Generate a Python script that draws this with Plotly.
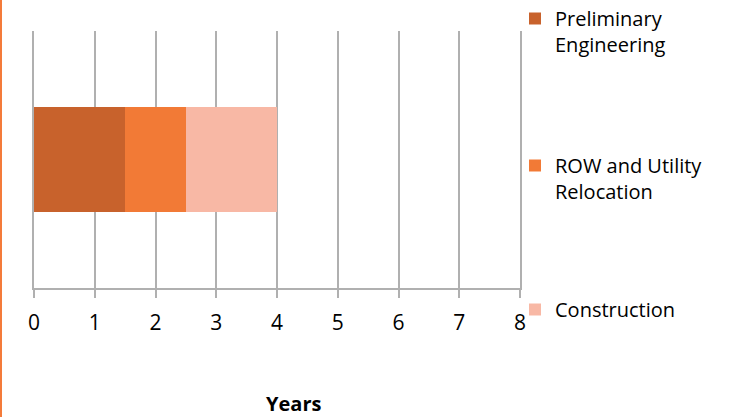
import plotly.graph_objects as go

# Project phases and their durations (years), stacked along one timeline
phases = ["Preliminary Engineering", "ROW and Utility Relocation", "Construction"]
legend_labels = ["Preliminary<br>Engineering", "ROW and Utility<br>Relocation", "Construction"]
durations = [1.5, 1.0, 1.5]
colors = ["#C8622C", "#F27A36", "#F8B8A5"]
category = ["Project"]
tick_values = [0, 1, 2, 3, 4, 5, 6, 7, 8]

FONT = "Open Sans"
GRID = "#B0B0B0"

fig = go.Figure()
legend_ids = ["legend", "legend2", "legend3"]
for label, dur, col, lg in zip(legend_labels, durations, colors, legend_ids):
    fig.add_trace(go.Bar(
        y=category, x=[dur], orientation="h", name=label,
        marker=dict(color=col, line=dict(width=0)),
        width=0.405, legend=lg,
    ))

L, R, T, B = 34, 212, 31, 129
W, H = 732, 417
pw = W - L - R
ph = H - T - B


def px_x(px):
    return (px - L) / pw


def py(px):
    return (H - B - px) / ph


legend_common = dict(
    font=dict(family=FONT, size=20, color="#000000"),
    bgcolor="rgba(0,0,0,0)", borderwidth=0,
    x=px_x(515), xanchor="left", yanchor="top", valign="top",
    itemclick=False, itemdoubleclick=False,
)

fig.update_layout(
    width=W, height=H,
    margin=dict(l=L, r=R, t=T, b=B, autoexpand=False),
    paper_bgcolor="white", plot_bgcolor="white",
    barmode="stack",
    font=dict(family=FONT, color="#000000"),
    showlegend=True,
    legend=dict(y=py(-1), **legend_common),
    legend2=dict(y=py(146), **legend_common),
    legend3=dict(y=py(290), **legend_common),
    xaxis=dict(
        range=[0, 8], tickvals=tick_values, ticktext=[str(v) for v in tick_values],
        showgrid=True, gridcolor=GRID, gridwidth=2,
        showline=True, linecolor=GRID, linewidth=2,
        ticks="outside", ticklen=8, tickwidth=2, tickcolor=GRID,
        tickfont=dict(family=FONT, size=21, color="#000000"),
        ticklabelstandoff=7,
        zeroline=False, fixedrange=True,
    ),
    yaxis=dict(
        range=[-0.5, 0.5], showticklabels=False, showgrid=False,
        showline=True, mirror=True, linecolor=GRID, linewidth=2,
        zeroline=False, ticks="", fixedrange=True,
    ),
    annotations=[dict(
        text="<b>Years</b>", x=px_x(293), y=py(403),
        xref="paper", yref="paper", xanchor="center", yanchor="middle",
        showarrow=False, font=dict(family=FONT, size=20, color="#000000"),
    )],
    shapes=[dict(
        type="line", xref="paper", yref="paper",
        x0=px_x(1), x1=px_x(1),
        y0=py(H), y1=py(0),
        line=dict(color="#F47B3A", width=2),
    )],
)

fig.write_html("out.html")
